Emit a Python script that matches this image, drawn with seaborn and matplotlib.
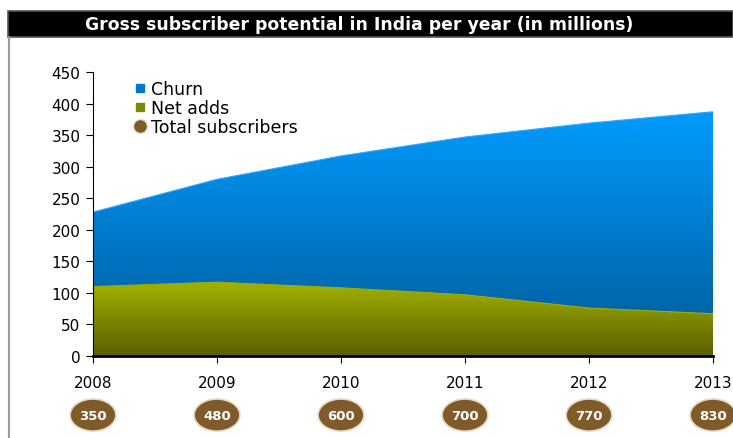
import numpy as np
import pandas as pd
import matplotlib
matplotlib.use("Agg")
import matplotlib.pyplot as plt
from matplotlib.colors import LinearSegmentedColormap
from matplotlib.lines import Line2D
from matplotlib.patches import Ellipse, Rectangle
import seaborn as sns

# Data (millions)
years = [2008, 2009, 2010, 2011, 2012, 2013]
net_adds = [110, 117, 108, 97, 76, 67]
churn = [118, 163, 209, 250, 293, 320]
total_subscribers = [350, 480, 600, 700, 770, 830]

df = pd.DataFrame({"year": years, "net_adds": net_adds, "churn": churn})
df["gross"] = df["net_adds"] + df["churn"]

sns.set_theme(style="white")
plt.rcParams["font.family"] = ["Verdana", "DejaVu Sans"]

fig = plt.figure(figsize=(7.33, 4.39), dpi=100)
fig.patch.set_facecolor("white")

# Frame and title bar
fig.patches.append(Rectangle((8 / 733, 1 - 38 / 439), 1 - 8 / 733, 26 / 439,
                             transform=fig.transFigure, facecolor="black",
                             edgecolor="#555555", linewidth=1.2, zorder=0))
fig.add_artist(Line2D([9 / 733, 9 / 733], [0, 1 - 38 / 439], transform=fig.transFigure,
                      color="#9a9a9a", linewidth=1.5))
fig.text(359 / 733, 1 - 25 / 439, "Gross subscriber potential in India per year (in millions)",
         color="white", fontsize=12.4, fontweight="bold", ha="center", va="center")

ax = fig.add_axes([93 / 733, 1 - 357 / 439, 620 / 733, 284 / 439])
ax.set_facecolor("none")

# Edges of the stacked areas
sns.lineplot(data=df, x="year", y="net_adds", ax=ax, color="#9cac00", linewidth=0.8, legend=False)
sns.lineplot(data=df, x="year", y="gross", ax=ax, color="#33a8ff", linewidth=0.8, legend=False)

def gradient_fill(ax, x, y0, y1, top_color, bottom_color, vmin, vmax):
    poly = ax.fill_between(x, y0, y1, facecolor="none", edgecolor="none")
    cmap = LinearSegmentedColormap.from_list("g", [bottom_color, top_color])
    grad = np.linspace(0, 1, 256).reshape(-1, 1)
    im = ax.imshow(grad, cmap=cmap, aspect="auto", origin="lower",
                   extent=[min(x), max(x), vmin, vmax], zorder=1)
    path = poly.get_paths()[0]
    im.set_clip_path(path, transform=ax.transData)

x = df["year"].to_numpy(dtype=float)
gradient_fill(ax, x, 0, df["net_adds"], "#a3b300", "#5a5e00", 0, 118)
gradient_fill(ax, x, df["net_adds"], df["gross"], "#009cff", "#0064a6", 60, 390)

ax.set_xlim(2008, 2013)
ax.set_ylim(0, 450)
ax.set_yticks(range(0, 451, 50))
ax.set_xticks(years)
ax.set_xticklabels([str(y) for y in years])
ax.set_xlabel("")
ax.set_ylabel("")

for s in ["top", "right"]:
    ax.spines[s].set_visible(False)
ax.spines["left"].set_color("black")
ax.spines["left"].set_linewidth(0.8)
ax.spines["bottom"].set_color("black")
ax.spines["bottom"].set_linewidth(2)
ax.spines["bottom"].set_zorder(5)
ax.tick_params(axis="y", direction="out", length=5, width=0.8, color="black",
               labelsize=11, pad=4, left=True, labelcolor="black")
ax.tick_params(axis="x", direction="out", length=5, width=0.8, color="black",
               labelsize=11, pad=9, bottom=True, labelcolor="black")

# Total subscriber badges beneath each year
xform = ax.get_xaxis_transform()
for yr, tot in zip(years, total_subscribers):
    e = Ellipse((yr, -0.208), width=0.37, height=0.113, transform=xform,
                facecolor="#7f5a2b", edgecolor="#e8dcc0", linewidth=1.2, clip_on=False, zorder=6)
    ax.add_patch(e)
    ax.text(yr, -0.208, str(tot), transform=xform, ha="center", va="center",
            color="white", fontsize=9.5, fontweight="bold", zorder=7, clip_on=False)

handles = [
    Line2D([], [], marker="s", linestyle="none", markersize=6, markerfacecolor="#0078c8",
           markeredgecolor="#0078c8"),
    Line2D([], [], marker="s", linestyle="none", markersize=6, markerfacecolor="#7d8a00",
           markeredgecolor="#7d8a00"),
    Line2D([], [], marker="o", linestyle="none", markersize=10, markerfacecolor="#7f5a2b",
           markeredgecolor="#e8dcc0"),
]
leg = ax.legend(handles, ["Churn", "Net adds", "Total subscribers"], loc="upper left",
                bbox_to_anchor=(0.048, 0.995), frameon=False, fontsize=12.5,
                handletextpad=0.0, labelspacing=0.05, handlelength=1.2, borderaxespad=0,
                labelcolor="black")

fig.savefig("out.png", dpi=100)
